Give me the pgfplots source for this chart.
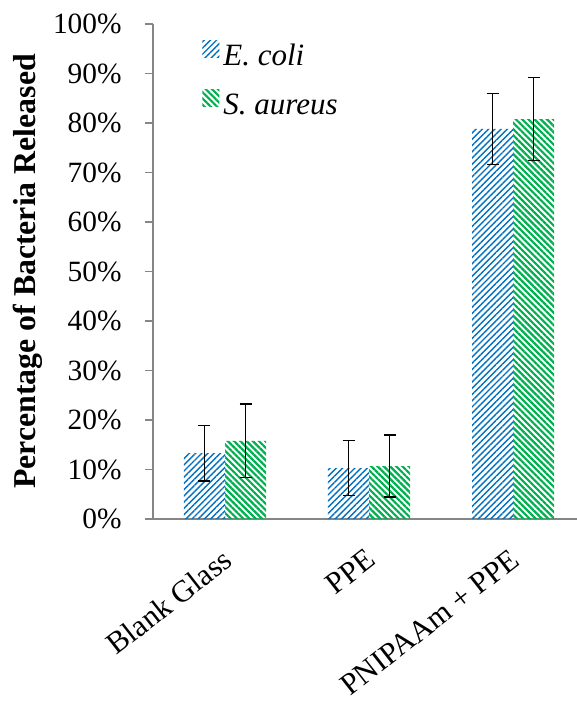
\documentclass[border=0pt]{standalone}
\usepackage{fontspec}
\setmainfont{Liberation Serif}
\usepackage{pgfplots}
\pgfplotsset{compat=1.18}
\usetikzlibrary{patterns.meta}
\definecolor{ecoli}{RGB}{0,112,192}
\definecolor{saur}{RGB}{0,176,80}
\definecolor{axgray}{RGB}{134,134,134}
\begin{document}
\begin{tikzpicture}
\begin{axis}[
  name=ax,
  scale only axis,
  width=212pt, height=247.5pt,
  xmin=-0.5, xmax=2.444,
  ymin=0, ymax=100,
  ytick={0,10,...,100},
  yticklabel={\pgfmathprintnumber{\tick}\%},
  /pgf/number format/assume math mode=true,
  xtick={0,1,2},
  xticklabels={Blank Glass, PPE, PNIPAAm + PPE},
  x tick label style={font=\fontsize{15.3}{18}\selectfont, xshift=-2pt, yshift=-10pt, rotate=38, anchor=north east, inner sep=0pt},
  y tick label style={font=\fontsize{14.7}{17}\selectfont, inner sep=0pt, xshift=-11.5pt},
  extra x ticks={-0.5,0.5,1.5},
  extra x tick labels={},
  extra x tick style={major tick length=4.5pt, tick style={axgray, line width=0.6pt}},
  xtick style={draw=none},
  axis x line*=bottom,
  axis y line*=left,
  axis line style={axgray, line width=0.6pt, -},
  ytick style={axgray, line width=0.6pt},
  major tick length=4pt,
  tick align=outside,
  ylabel={\bfseries Percentage of Bacteria Released},
  ylabel style={font=\fontsize{15.9}{18}\selectfont, at={(axis description cs:-0.2948,0.5)}, anchor=center, rotate=0},
  ybar=0pt, bar width=0.285,
  legend style={draw=none, fill=none, at={(0.1156,0.968)}, anchor=north west,
    font=\fontsize{15.5}{18}\itshape, row sep=8.5pt, inner sep=0pt},
  legend cell align=left,
  legend image code/.code={\draw[#1, draw=none] (0pt,-0.5pt) rectangle (8.5pt,8pt);},
]
\addplot[draw=none, pattern={Lines[angle=45,distance=2.2pt,line width=0.7pt]}, pattern color=ecoli,
  error bars/.cd, y dir=both, y explicit,
  error bar style={black, line width=0.75pt},
  error mark options={rotate=90, mark size=3pt, black, line width=0.75pt}]
  coordinates {(0,13.3) +- (0,5.6) (1,10.3) +- (0,5.6) (2,78.8) +- (0,7.2)};
\addlegendentry{E. coli}
\addplot[draw=none, pattern={Lines[angle=-45,distance=2.2pt,line width=1.1pt]}, pattern color=saur,
  error bars/.cd, y dir=both, y explicit,
  error bar style={black, line width=0.75pt},
  error mark options={rotate=90, mark size=3pt, black, line width=0.75pt}]
  coordinates {(0,15.8) +- (0,7.4) (1,10.7) +- (0,6.3) (2,80.8) +- (0,8.4)};
\addlegendentry{S. aureus}
\end{axis}
\pgfresetboundingbox
\path ([xshift=-76.5pt,yshift=-96pt]ax.south west) rectangle ([yshift=12pt]ax.north east);
\end{tikzpicture}
\end{document}
